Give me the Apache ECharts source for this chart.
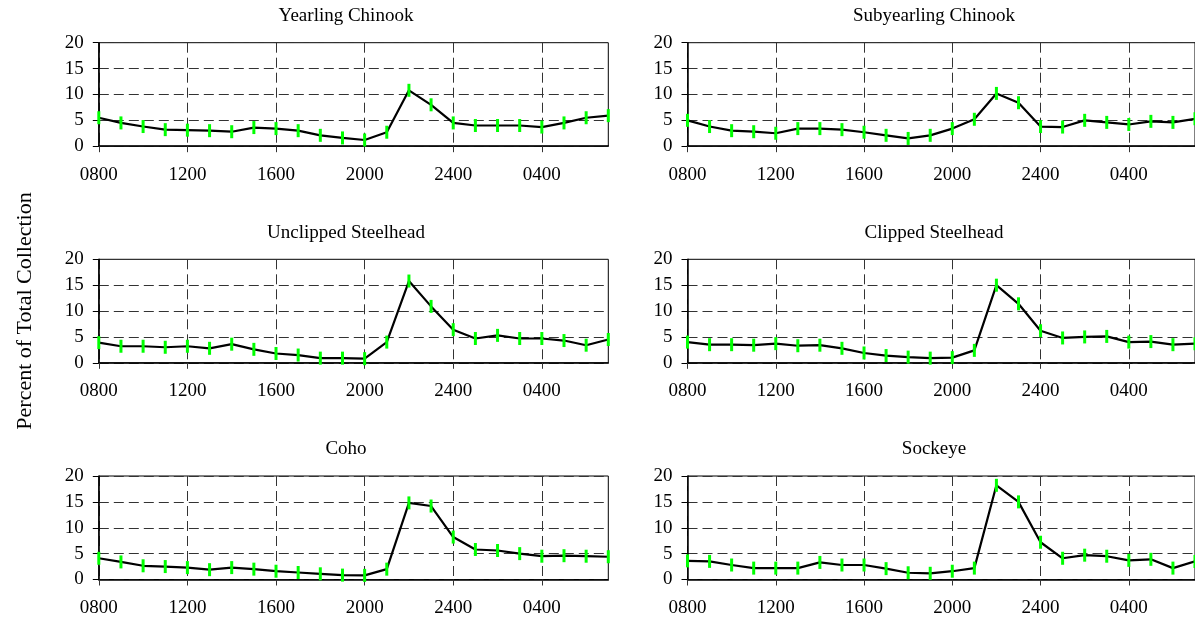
<!DOCTYPE html>
<html>
<head>
<meta charset="utf-8">
<script src="https://cdn.jsdelivr.net/npm/echarts@6/dist/echarts.min.js"></script>
<style>
html,body{margin:0;padding:0;background:#fff;}
#chart{width:1195px;height:622px;}
</style>
</head>
<body>
<div id="chart"></div>
<script>
const hours = ['0800','0900','1000','1100','1200','1300','1400','1500','1600','1700','1800','1900','2000','2100','2200','2300','2400','0100','0200','0300','0400','0500','0600','0700'];
const panelTitles = ['Yearling Chinook','Subyearling Chinook','Unclipped Steelhead','Clipped Steelhead','Coho','Sockeye'];
const yearlingChinook = [5.5,4.5,3.8,3.2,3.1,3.0,2.8,3.6,3.4,3.0,2.1,1.6,1.2,2.7,10.8,8.0,4.5,4.0,4.0,4.0,3.7,4.5,5.5,5.9];
const subyearlingChinook = [5.0,3.8,3.0,2.8,2.5,3.4,3.4,3.2,2.7,2.1,1.5,2.1,3.4,5.2,10.2,8.4,3.8,3.7,5.0,4.6,4.2,4.8,4.6,5.3];
const unclippedSteelhead = [3.9,3.2,3.2,3.0,3.2,2.8,3.6,2.6,1.8,1.5,0.9,0.9,0.8,4.0,15.8,10.9,6.4,4.7,5.3,4.7,4.7,4.3,3.4,4.5];
const clippedSteelhead = [4.0,3.5,3.5,3.4,3.7,3.3,3.4,2.8,1.9,1.4,1.1,0.9,1.0,2.4,15.0,11.4,6.2,4.8,5.0,5.1,4.0,4.1,3.5,3.7];
const coho = [4.1,3.4,2.65,2.5,2.3,1.9,2.3,2.0,1.6,1.35,1.1,0.85,0.8,2.0,14.8,14.2,8.2,5.8,5.6,5.0,4.5,4.6,4.5,4.4];
const sockeye = [3.6,3.5,2.8,2.2,2.2,2.2,3.3,2.8,2.8,2.1,1.3,1.2,1.6,2.2,18.2,15.0,7.2,4.1,4.7,4.5,3.7,3.9,2.2,3.5];
const yAxisTitle = 'Percent of Total Collection';

const panelData = [yearlingChinook, subyearlingChinook, unclippedSteelhead, clippedSteelhead, coho, sockeye];
const FONT = '"Liberation Serif", "Times New Roman", serif';
const colLeft = [98.8, 687.5];
const colWidth = [509.5, 510.4];
const rowTop = [42.7, 259.3, 476];
const plotH = 103.5;
const titleX = [346, 934];

const grids = [], xAxes = [], yAxes = [], series = [], titles = [];
panelData.forEach((vals, i) => {
  const c = i % 2, r = Math.floor(i / 2);
  grids.push({left: colLeft[c], top: rowTop[r], width: colWidth[c], height: plotH,
    show: true, borderColor: '#000', borderWidth: 1, containLabel: false});
  xAxes.push({type: 'category', gridIndex: i, data: hours, boundaryGap: false,
    axisLine: {lineStyle: {color: '#000', width: 1.5}},
    axisTick: {show: true, interval: 3, length: 6, lineStyle: {color: '#333'}},
    axisLabel: {interval: 3, color: '#000', fontFamily: FONT, fontSize: 19, margin: 19},
    splitLine: {show: true, interval: 3, lineStyle: {color: '#333', type: [10, 5], width: 1}}
  });
  yAxes.push({type: 'value', gridIndex: i, min: 0, max: 20, interval: 5,
    axisLine: {show: true, lineStyle: {color: '#000', width: 1.5}},
    axisTick: {show: true, length: 6, lineStyle: {color: '#000'}},
    axisLabel: {color: '#000', fontFamily: FONT, fontSize: 19, margin: 15},
    splitLine: {show: true, lineStyle: {color: '#333', type: [10, 5], width: 1}}
  });
  series.push({type: 'line', xAxisIndex: i, yAxisIndex: i, data: vals,
    symbol: 'rect', symbolSize: [3, 13], showAllSymbol: true,
    itemStyle: {color: '#00ff00'},
    lineStyle: {color: '#000', width: 2.2},
    animation: false, z: 3});
  titles.push({text: panelTitles[i], left: titleX[c], top: rowTop[r] - 36, textAlign: 'center', padding: 0,
    textStyle: {fontFamily: FONT, fontSize: 19, fontWeight: 'normal', color: '#000'}});
});

const chart = echarts.init(document.getElementById('chart'), null, {renderer: 'canvas'});
chart.setOption({
  backgroundColor: '#fff',
  animation: false,
  title: titles,
  grid: grids,
  xAxis: xAxes,
  yAxis: yAxes,
  series: series,
  graphic: [{type: 'text', x: 25, y: 311, rotation: Math.PI / 2,
    style: {text: yAxisTitle, font: '22px ' + FONT, fill: '#000', align: 'center', verticalAlign: 'middle'}}]
});
</script>
</body>
</html>
